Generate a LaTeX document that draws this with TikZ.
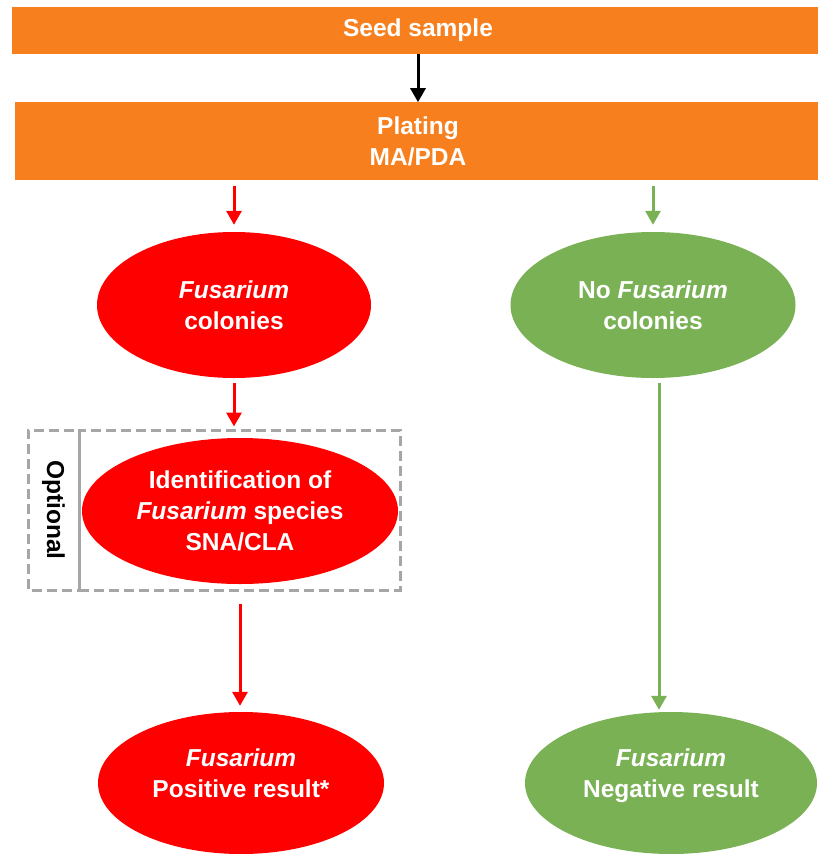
\documentclass[tikz,border=0pt]{standalone}
\usepackage{fontspec}
\setmainfont{Liberation Sans}
\usetikzlibrary{positioning,arrows.meta,shapes.geometric}
\definecolor{platebar}{HTML}{F77F1D}
\definecolor{posred}{HTML}{FF0000}
\definecolor{neggreen}{HTML}{7AB155}
\definecolor{optgrey}{HTML}{A6A6A6}

\begin{document}
\begin{tikzpicture}[
  x=1pt, y=1pt,
  every node/.style={font=\fontsize{24.5}{31}\selectfont\bfseries, align=center},
  bar/.style={fill=platebar, text=white, inner sep=0pt},
  oval/.style={ellipse, text=white, inner sep=0pt},
  redoval/.style={oval, fill=posred},
  greenoval/.style={oval, fill=neggreen},
  optbox/.style={draw=optgrey, dash pattern=on 10pt off 5pt, line width=3pt},
  arrow/.style={-{Triangle[length=14pt, width=15pt]}, line width=3pt},
  redarrow/.style={arrow, color=posred},
  greenarrow/.style={arrow, color=neggreen},
]
\useasboundingbox (0,0) rectangle (817,-854);
\node[bar, minimum width=812pt, minimum height=47pt] (seed) at (418,-30.5) {Seed sample};
\node[bar, minimum width=806pt, minimum height=78pt, below=48pt of seed] (plating) {Plating\\MA/PDA};
\node[redoval, minimum width=274pt, minimum height=146pt] (colonies) at (234,-305) {\textit{Fusarium}\\colonies};
\node[greenoval, minimum width=285pt, minimum height=146pt] (nocolonies) at (653,-305) {No \textit{Fusarium}\\colonies};
\node[optbox, minimum width=321pt, minimum height=160pt] (optframe) at (239.5,-510) {};
\node[optbox, rotate=-90, minimum width=160pt, minimum height=51pt] (optlabel) at (53.5,-510) {Optional};
\node[redoval, minimum width=316pt, minimum height=146pt] (species) at (240,-511) {Identification of\\\textit{Fusarium} species\\SNA/CLA};
\node[redoval, minimum width=286pt, minimum height=142pt, text depth=19pt] (positive) at (241,-783) {\textit{Fusarium}\\Positive result*};
\node[greenoval, minimum width=292pt, minimum height=142pt, text depth=19pt] (negative) at (671,-783) {\textit{Fusarium}\\Negative result};
\draw[arrow] (seed) -- (plating);
\draw[redarrow, shorten <=5pt, shorten >=7pt] (plating.south -| colonies) -- (colonies);
\draw[greenarrow, shorten <=5pt, shorten >=7pt] (plating.south -| nocolonies) -- (nocolonies);
\draw[redarrow, shorten <=5pt, shorten >=2pt] (colonies) -- (colonies |- optframe.north);
\draw[redarrow, shorten <=20pt, shorten >=6pt] (species) -- (species |- positive.north);
\draw[greenarrow, shorten <=5pt, shorten >=2pt] ([xshift=6pt]nocolonies.south) -- ([xshift=6pt]nocolonies.south |- negative.north);
\end{tikzpicture}
\end{document}
